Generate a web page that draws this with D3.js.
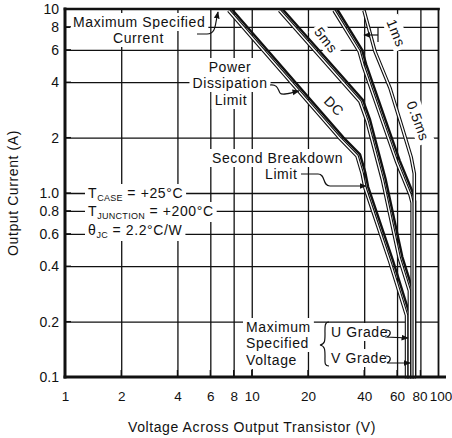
<!DOCTYPE html>
<html>
<head>
<meta charset="utf-8">
<script src="https://cdn.jsdelivr.net/npm/d3@7"></script>
<style>
  body { margin: 0; background: #fff; }
  svg text { font-family: "Liberation Sans", Arial, sans-serif; fill: #111; }
</style>
</head>
<body>
<div id="chart"></div>
<script>
var xTicks = [1, 2, 4, 6, 8, 10, 20, 40, 60, 80, 100];
var yTicks = [0.1, 0.2, 0.4, 0.6, 0.8, 1, 2, 4, 6, 8, 10];
var yTickLabels = ["0.1", "0.2", "0.4", "0.6", "0.8", "1.0", "2", "4", "6", "8", "10"];

// [volts, amps]
var dcCurve   = [[7.8, 10], [31, 2.0], [38, 1.62], [40.5, 1.3], [42, 1.08], [57, 0.43], [70, 0.22], [70, 0.1]];
var ms5Curve  = [[14.6, 10], [39.4, 3.2], [43, 2.5], [52, 1.2], [64, 0.45], [72.5, 0.3], [72.5, 0.1]];
var ms1Curve  = [[28.6, 10], [39, 6.0], [41, 5.0], [52, 2.5], [62, 1.5], [73, 1.0], [75, 0.9], [75, 0.1]];
var ms05Curve = [[41.4, 10], [47.4, 6.0], [57, 3.8], [66, 2.35], [74, 1.6], [77, 1.3], [77, 0.1]];

var width = 452, height = 438,
    plotLeft = 65, plotRight = 438.5, plotTop = 9, plotBottom = 377;

var svg = d3.select("#chart")
            .append("svg")
              .attr("width", width)
              .attr("height", height);

svg.append("defs").append("marker")
    .attr("id", "arrow")
    .attr("viewBox", "0 0 10 10")
    .attr("refX", 9).attr("refY", 5)
    .attr("markerWidth", 6).attr("markerHeight", 6)
    .attr("orient", "auto")
  .append("path")
    .attr("d", "M0,1L10,5L0,9z")
    .attr("fill", "#111");

var x = d3.scaleLog().domain([1, 100]).range([plotLeft, plotRight]);
var y = d3.scaleLog().domain([0.1, 10]).range([plotBottom, plotTop]);

// grid lines
svg.append("g")
    .attr("transform", "translate(0," + plotBottom + ")")
    .call(d3.axisBottom(x).tickValues(xTicks.slice(1, -1)).tickSize(-(plotBottom - plotTop)).tickFormat(""))
    .call(function (g) { g.select(".domain").remove(); })
    .selectAll("line").attr("stroke", "#111").attr("stroke-width", 1.3);

svg.append("g")
    .attr("transform", "translate(" + plotLeft + ",0)")
    .call(d3.axisLeft(y).tickValues(yTicks.slice(1, -1)).tickSize(-(plotRight - plotLeft)).tickFormat(""))
    .call(function (g) { g.select(".domain").remove(); })
    .selectAll("line").attr("stroke", "#111").attr("stroke-width", 1.3);

// tick labels
var xLab = svg.append("g")
    .attr("transform", "translate(0," + plotBottom + ")")
    .style("font-size", "13.5px")
    .call(d3.axisBottom(x).tickValues(xTicks).tickSize(0).tickPadding(14).tickFormat(function (d) { return d; }))
    .call(function (g) { g.select(".domain").remove(); });
xLab.selectAll("text").attr("fill", "#111").style("font-family", "'Liberation Sans', Arial, sans-serif")
    .attr("dx", function (d) { return d === 100 ? 2 : (d === 80 ? -1 : 0); });

svg.append("g")
    .attr("transform", "translate(" + plotLeft + ",0)")
    .style("font-size", "14px")
    .call(d3.axisLeft(y).tickValues(yTicks).tickSize(0).tickPadding(6)
            .tickFormat(function (d, i) { return yTickLabels[i]; }))
    .call(function (g) { g.select(".domain").remove(); })
    .selectAll("text").attr("fill", "#111").style("font-family", "'Liberation Sans', Arial, sans-serif");

// axis titles
svg.append("text")
    .attr("x", 252).attr("y", 432)
    .attr("text-anchor", "middle")
    .style("font-size", "14px").style("letter-spacing", "0.6px")
    .text("Voltage Across Output Transistor (V)");

svg.append("text")
    .attr("transform", "translate(18,193) rotate(-90)")
    .attr("text-anchor", "middle")
    .style("font-size", "14px").style("letter-spacing", "0.6px")
    .text("Output Current (A)");

// annotations, each on a white patch that breaks the grid
var notes = svg.append("g").style("font-size", "14px").style("letter-spacing", "0.6px");

function note(str, px, py, anchor, angle) {
    var g = notes.append("g")
        .attr("transform", "translate(" + px + "," + py + ")" + (angle ? " rotate(" + angle + ")" : ""));
    return g.append("text").attr("text-anchor", anchor || "start").text(str);
}

function sub(t, main, small, rest) {
    t.append("tspan").text(main);
    t.append("tspan").attr("dy", 3).style("font-size", "9px").style("letter-spacing", "0.3px").text(small);
    t.append("tspan").attr("dy", -3).text(rest);
}

note("Maximum Specified", 73, 27);
note("Current", 113, 43);
note("Power", 230, 72, "middle");
note("Dissipation", 230, 88, "middle");
note("Limit", 231, 105, "middle");
note("Second Breakdown", 212, 163);
note("Limit", 265, 179);
sub(note("", 88, 198), "T", "CASE", " = +25°C");
sub(note("", 88, 216), "T", "JUNCTION", " = +200°C");
sub(note("", 88, 235), "θ", "JC", " = 2.2°C/W");
note("Maximum", 246, 332);
note("Specified", 246, 348);
note("Voltage", 246, 365);
note("U Grade", 331, 337);
note("V Grade", 331, 363);
note("DC", 334, 106, "middle", 45).attr("dy", "0.35em");
note("5ms", 326, 40, "middle", 52).attr("dy", "0.35em");
note("1ms", 396, 33, "middle", 68).attr("dy", "0.35em");
note("0.5ms", 418, 121, "middle", 70).attr("dy", "0.35em");

notes.selectAll("g").each(function () {
    var bb = this.getBBox();
    d3.select(this).insert("rect", "text")
        .attr("x", bb.x - 3).attr("y", bb.y - 1)
        .attr("width", bb.width + 6).attr("height", bb.height + 2)
        .attr("fill", "#fff");
});

// curves: a heavy line with a hollow twin beside it
var line = d3.line()
    .x(function (d) { return x(d[0]); })
    .y(function (d) { return y(d[1]); });

var curves = svg.append("g").attr("fill", "none").attr("stroke-linejoin", "round");

[dcCurve, ms5Curve, ms1Curve, ms05Curve].forEach(function (c, i) {
    var twin = curves.append("g").attr("transform", "translate(-3,1.5)");
    twin.append("path").attr("d", line(c)).attr("stroke", "#111").attr("stroke-width", 3.6);
    twin.append("path").attr("d", line(c)).attr("stroke", "#fff").attr("stroke-width", 1.4);
    if (i < 3) {
        curves.append("path").attr("d", line(c)).attr("stroke", "#111").attr("stroke-width", 2.4);
    }
});

// pointers
var pointers = svg.append("g").attr("fill", "none").attr("stroke", "#111").attr("stroke-width", 1.2);
pointers.append("path").attr("d", "M197,34 L207,34 C214,34 215,28 216,22 L218,12").attr("marker-end", "url(#arrow)");
pointers.append("path").attr("d", "M270,85 C278,84 278,90 280,93 C282,96 290,93 299,91").attr("marker-end", "url(#arrow)");
pointers.append("path").attr("d", "M301,174 L318,174 C326,174 322,186 330,186 L366,186").attr("marker-end", "url(#arrow)");
pointers.append("path").attr("d", "M378,35 L364,35").attr("marker-end", "url(#arrow)");
pointers.append("path").attr("d", "M378,28 L378,42");
pointers.append("path").attr("d", "M386,330 C392,330 391,335 387,337 L408,338").attr("marker-end", "url(#arrow)");
pointers.append("path").attr("d", "M386,356 C392,356 391,361 387,363 L410,363").attr("marker-end", "url(#arrow)");
pointers.append("path")
    .attr("d", "M329,322 C324,322 325,328 325,334 C325,341 325,344 320,345 C325,346 325,350 325,356 C325,362 324,366 329,366");

// small inside ticks along the axes
svg.append("g").selectAll("line").data(xTicks.slice(1, -1)).enter().append("line")
    .attr("x1", function (d) { return x(d); }).attr("x2", function (d) { return x(d); })
    .attr("y1", plotBottom).attr("y2", plotBottom - 7)
    .attr("stroke", "#111").attr("stroke-width", 1.3);
svg.append("g").selectAll("line").data(yTicks.slice(1, -1)).enter().append("line")
    .attr("x1", plotLeft).attr("x2", plotLeft + 6)
    .attr("y1", function (d) { return y(d); }).attr("y2", function (d) { return y(d); })
    .attr("stroke", "#111").attr("stroke-width", 1.3);

// frame
var frame = svg.append("g").attr("stroke", "#111").attr("stroke-linecap", "square");
frame.append("line").attr("x1", plotLeft).attr("x2", plotLeft).attr("y1", plotTop).attr("y2", plotBottom).attr("stroke-width", 3);
frame.append("line").attr("x1", plotLeft).attr("x2", plotRight + 6).attr("y1", plotBottom).attr("y2", plotBottom).attr("stroke-width", 3);
frame.append("line").attr("x1", plotLeft).attr("x2", plotRight).attr("y1", plotTop).attr("y2", plotTop).attr("stroke-width", 2.6);
frame.append("line").attr("x1", plotRight).attr("x2", plotRight).attr("y1", plotTop).attr("y2", plotBottom).attr("stroke-width", 1.8);
</script>
</body>
</html>
